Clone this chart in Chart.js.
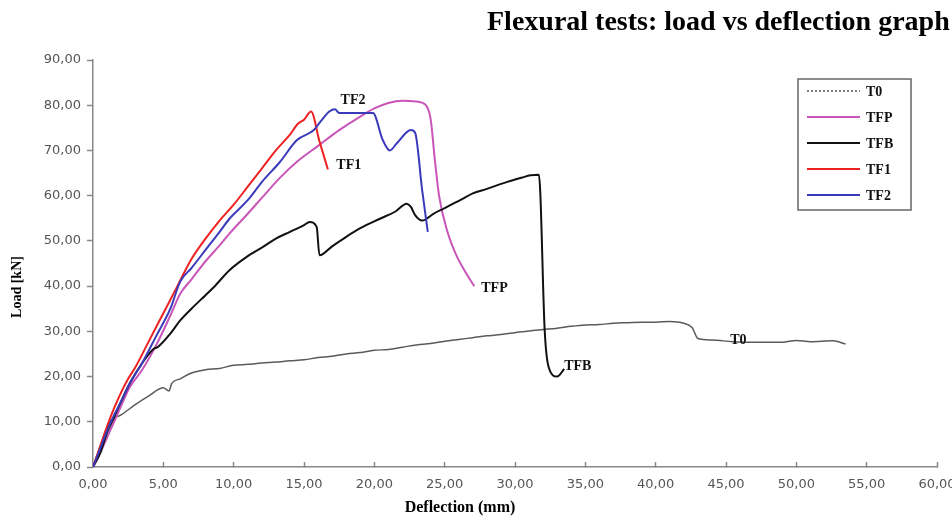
<!DOCTYPE html>
<html>
<head>
<meta charset="utf-8">
<script src="https://cdn.jsdelivr.net/npm/chart.js@4.4.1/dist/chart.umd.min.js"></script>
<style>
  html, body { margin: 0; padding: 0; background: #fff; }
  #wrap { width: 952px; height: 518px; }
</style>
</head>
<body>
<div id="wrap"><canvas id="flexPlot" width="952" height="518"></canvas></div>
<script>
// deflection (mm), load (kN)
const T0 = [[0,0],[0.5,4.5],[1.2,10],[2,11.5],[3,13.8],[4,15.8],[5,17.5],[5.4,16.8],[5.6,18.5],[6.2,19.5],[7,20.8],[8,21.5],[9,21.8],[10,22.5],[11,22.7],[12,23],[13,23.2],[14,23.5],[15,23.7],[16,24.2],[17,24.5],[18,25],[19,25.3],[20,25.8],[21,26],[22,26.5],[23,27],[24,27.3],[25,27.8],[26,28.2],[27,28.6],[28,29],[29,29.3],[30,29.7],[31,30.1],[32,30.4],[33,30.7],[34,31.1],[35,31.4],[36,31.5],[37,31.8],[38,31.9],[39,32],[40,32],[41,32.2],[42,31.8],[42.6,30.8],[43.0,28.4],[44,28.1],[45.5,27.7],[47,27.6],[49,27.6],[50,28],[51,27.7],[52.6,27.9],[53.5,27.2]]
const TFP = [[0,0],[0.5,3],[1,6.5],[1.5,10],[2,13.5],[2.6,17.6],[3.5,21.5],[4.5,27],[5.5,33.5],[6.2,38.3],[7,41.5],[8,45.5],[9,49],[9.7,51.6],[11,56],[12,59.5],[13.3,64],[14.5,67.5],[16,71],[17.5,74.5],[19,77.5],[20,79.3],[21,80.5],[22,81],[23,80.8],[23.6,80.2],[24.0,77],[24.3,68],[24.6,60],[25.2,52],[25.8,47],[26.4,43.5],[27.1,40]]
const TFB = [[0,0],[0.5,3],[1,7.6],[1.5,11],[2,14.5],[2.6,18.4],[3.5,23],[4.3,26.1],[4.6,26.5],[5.5,29.5],[6.2,32.4],[7,35],[8,38],[8.6,39.8],[9.7,43.5],[10.9,46.4],[12,48.5],[13,50.5],[14,52],[15,53.5],[15.4,54.2],[15.9,53.1],[16.1,46.8],[17,48.8],[18,50.9],[19,52.8],[20.4,54.9],[21.5,56.5],[22.3,58.2],[22.6,57.5],[22.9,55.7],[23.4,54.5],[24.2,56],[24.9,57.1],[26.1,59],[27,60.5],[28,61.5],[29.4,63],[30.5,64],[31.1,64.5],[31.7,64.6],[31.8,60.5],[32.1,30.9],[32.4,22],[33,20],[33.5,21.7]]
const TF1 = [[0,0],[0.5,4.5],[1,9],[1.5,13],[2,16.5],[2.5,19.5],[3,22],[4,28],[5,34],[6,40],[7,46],[8,50.5],[9,54.5],[10,58],[11,62],[12,66],[13,70],[14,73.5],[14.6,76],[15,76.8],[15.5,78.6],[16.1,72],[16.7,65.8]]
const TF2 = [[0,0],[0.5,4],[1,8],[1.5,11.5],[2,14.5],[2.6,18.4],[3.5,23],[4.5,29],[5.5,35],[6.2,41],[7,44],[8,48],[9,52],[9.7,54.9],[11,59],[12,63],[13.3,67.5],[14.5,72.3],[15.7,74.5],[16.2,76.5],[16.8,78.6],[17.2,79.1],[17.5,78.3],[19.9,78.3],[20.6,72.3],[21.1,70],[21.6,71.6],[22.6,74.5],[22.9,73.9],[23.4,61.2],[23.8,52]]

const seriesNames = ['T0', 'TFP', 'TFB', 'TF1', 'TF2']
const seriesData = [T0, TFP, TFB, TF1, TF2]
// where the name of each curve is written on the plot (deflection, load)
const tagAt = [[45.3, 27.9], [27.6, 39.6], [33.5, 22.3], [17.3, 66.6], [17.6, 81.0]]

const xTicks = { min: 0, max: 60, step: 5 }
const yTicks = { min: 0, max: 90, step: 10 }

const colors = ['#5a5a5a', '#c955b8', '#111111', '#ee2222', '#3a3aba']
const widths = [1.5, 2, 2, 2, 2]
const legendDash = [[2, 2], [], [], [], []]

const commaFmt = v => v.toFixed(2).replace('.', ',')

const decor = {
    id: 'decor',
    afterDraw(chart) {
        const ctx = chart.ctx
        const sx = chart.scales.x, sy = chart.scales.y
        ctx.save()
        // title
        ctx.fillStyle = '#000'
        ctx.font = 'bold 28px "Liberation Serif"'
        ctx.textAlign = 'left'
        ctx.textBaseline = 'alphabetic'
        ctx.fillText('Flexural tests: load vs deflection graph', 487, 30)

        // axis titles
        ctx.font = 'bold 16px "Liberation Serif"'
        ctx.textAlign = 'center'
        ctx.textBaseline = 'middle'
        ctx.fillText('Deflection (mm)', 460, 508)
        ctx.save()
        ctx.translate(17, 287)
        ctx.rotate(-Math.PI / 2)
        ctx.font = 'bold 14px "Liberation Serif"'
        ctx.fillText('Load [kN]', 0, 0)
        ctx.restore()

        // curve names
        ctx.textAlign = 'left'
        tagAt.forEach((p, i) => {
            ctx.font = 'bold 14px "Liberation Serif"'
            ctx.fillStyle = '#111'
            ctx.fillText(seriesNames[i], sx.getPixelForValue(p[0]), sy.getPixelForValue(p[1]))
        })

        // legend box
        ctx.strokeStyle = '#666'
        ctx.lineWidth = 1.5
        ctx.strokeRect(798, 79, 113, 131)
        chart.data.datasets.forEach((ds, i) => {
            const y = 91 + i * 26
            ctx.beginPath()
            ctx.setLineDash(ds.legendDash)
            ctx.strokeStyle = ds.borderColor
            ctx.lineWidth = ds.legendDash.length ? 1.5 : 2
            ctx.moveTo(807, y)
            ctx.lineTo(860, y)
            ctx.stroke()
            ctx.setLineDash([])
            ctx.fillStyle = '#111'
            ctx.font = 'bold 14px "Liberation Serif"'
            ctx.fillText(ds.label, 866, y + 1)
        })
        ctx.restore()
    }
}

new Chart(document.getElementById('flexPlot'), {
    type: 'line',
    data: {
        datasets: seriesNames.map((name, i) => ({
            label: name,
            data: seriesData[i].map(p => ({ x: p[0], y: p[1] })),
            borderColor: colors[i],
            borderWidth: widths[i],
            pointRadius: 0,
            fill: false,
            cubicInterpolationMode: 'monotone',
            order: i === 0 ? 10 : 5 - i,
            legendDash: legendDash[i]
        }))
    },
    options: {
        responsive: false,
        animation: false,
        events: [],
        layout: { padding: { top: 60, right: 15, left: 0, bottom: 0 } },
        plugins: {
            legend: { display: false },
            tooltip: { enabled: false },
            title: { display: false }
        },
        scales: {
            x: {
                type: 'linear',
                min: xTicks.min,
                max: xTicks.max,
                afterFit: s => { s.height = 51; s.paddingRight = 0; s.paddingLeft = 0 },
                border: { color: '#888', width: 1.5 },
                grid: { drawOnChartArea: false, tickLength: -5, color: '#888', tickWidth: 1.5 },
                ticks: {
                    stepSize: xTicks.step,
                    padding: 15,
                    maxRotation: 0,
                    color: '#555',
                    font: { family: 'DejaVu Sans', size: 13 },
                    callback: commaFmt
                }
            },
            y: {
                type: 'linear',
                min: yTicks.min,
                max: yTicks.max,
                afterFit: s => { s.width = 93; s.paddingTop = 0; s.paddingBottom = 0 },
                border: { color: '#888', width: 1.5 },
                grid: { drawOnChartArea: false, tickLength: 6, color: '#888', tickWidth: 1.5 },
                ticks: {
                    stepSize: yTicks.step,
                    padding: 6,
                    color: '#555',
                    font: { family: 'DejaVu Sans', size: 13 },
                    callback: commaFmt
                }
            }
        }
    },
    plugins: [decor]
})
</script>
</body>
</html>
